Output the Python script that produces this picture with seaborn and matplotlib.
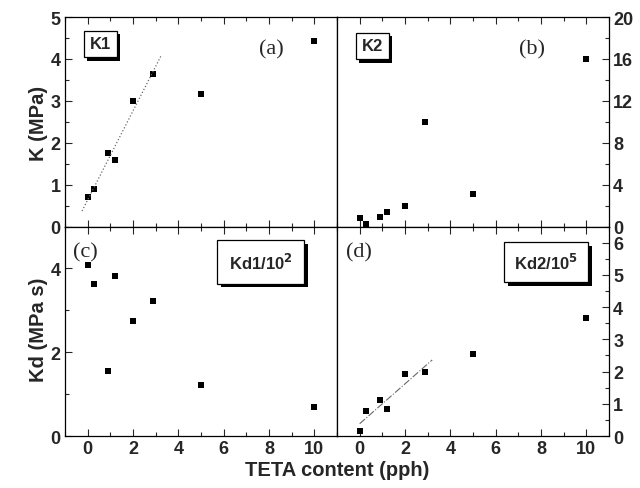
import numpy as np
import pandas as pd
import matplotlib
matplotlib.use('Agg')
import matplotlib.pyplot as plt
import matplotlib.patheffects as pe
from matplotlib.ticker import MultipleLocator
import seaborn as sns

# TETA content (pph)
teta = [0, 0.3, 0.9, 1.2, 2, 2.9, 5, 10]
# K1 (MPa), K2 (MPa)
k1 = [0.7, 0.9, 1.75, 1.58, 3.0, 3.65, 3.17, 4.42]
k2 = [0.86, 0.29, 0.92, 1.37, 1.97, 10.0, 3.1, 16.0]
# Kd1/10^2 and Kd2/10^5 (MPa s)
kd1 = [4.09, 3.62, 1.56, 3.82, 2.75, 3.22, 1.22, 0.69]
kd2 = [0.15, 0.77, 1.12, 0.83, 1.94, 2.0, 2.56, 3.66]

df = pd.DataFrame({'teta': teta, 'k1': k1, 'k2': k2, 'kd1': kd1, 'kd2': kd2})

sns.set_style('ticks')
plt.rcParams['font.family'] = ['Liberation Sans', 'DejaVu Sans']
plt.rcParams['font.weight'] = 'bold'

fig, axes = plt.subplots(2, 2, figsize=(6.4, 4.89), dpi=100)
fig.subplots_adjust(left=0.1016, right=0.9516, top=0.963, bottom=0.1063,
                    hspace=0, wspace=0)
(ax_a, ax_b), (ax_c, ax_d) = axes

panels = [
    (ax_a, 'k1', (0, 5), 1, 0.5, 'left', 'K1', 0.35, (0.13, 0.872), '(a)', (0.76, 0.85)),
    (ax_b, 'k2', (0, 20), 4, 2, 'right', 'K2', 0.35, (0.13, 0.862), '(b)', (0.716, 0.85)),
    (ax_c, 'kd1', (0, 5), 2, 1, 'left', 'Kd1/10$^2$', 0.7, (0.72, 0.83), '(c)', (0.075, 0.88)),
    (ax_d, 'kd2', (0, 6.5), 1, 0.5, 'right', 'Kd2/10$^5$', 0.6, (0.77, 0.83), '(d)', (0.08, 0.88)),
]

for ax, col, ylim, major, minor, side, box, pad, box_pos, tag, tag_pos in panels:
    sns.scatterplot(data=df, x='teta', y=col, ax=ax, marker='s', s=22,
                    color='black', edgecolor='black', linewidth=0)
    ax.set_xlim(-1, 11)
    ax.set_ylim(*ylim)
    ax.xaxis.set_major_locator(MultipleLocator(2))
    ax.xaxis.set_minor_locator(MultipleLocator(1))
    ax.yaxis.set_major_locator(MultipleLocator(major))
    ax.yaxis.set_minor_locator(MultipleLocator(minor))
    ax.set_xlabel('')
    ax.set_ylabel('')
    for s in ax.spines.values():
        s.set_linewidth(0.9)
        s.set_color('black')
    ax.tick_params(which='both', direction='in', top=True, bottom=True,
                   left=(side == 'left'), right=(side == 'right'),
                   labelleft=(side == 'left'), labelright=(side == 'right'),
                   width=0.8, labelsize=13, pad=3)
    ax.tick_params(which='major', length=5)
    ax.tick_params(which='minor', length=3)
    t = ax.text(box_pos[0], box_pos[1], box, transform=ax.transAxes,
                ha='center', va='center', fontsize=12, fontweight='bold',
                bbox=dict(boxstyle=f'square,pad={pad}', fc='white', ec='black', lw=0.9))
    t.get_bbox_patch().set_path_effects(
        [pe.withSimplePatchShadow(offset=(2.5, -2.5), shadow_rgbFace='black', alpha=1)])
    ax.text(tag_pos[0], tag_pos[1], tag, transform=ax.transAxes, ha='center',
            va='center', fontsize=16, family='Liberation Serif', fontweight='normal')

for ax in (ax_a, ax_b):
    ax.tick_params(labelbottom=False)

# linear fits over the low-content points
lo = df[df['teta'] < 4]
p1 = np.polyfit(lo['teta'], lo['k1'], 1)
xs1 = np.array([-0.25, 3.25])
ax_a.plot(xs1, np.polyval(p1, xs1), color='dimgray', lw=0.9, ls=':')
p2 = np.polyfit(lo['teta'], lo['kd2'], 1)
xs2 = np.array([0, 3.2])
ax_d.plot(xs2, np.polyval(p2, xs2), color='dimgray', lw=0.8, ls='-.')

fig.text(0.06, 0.748, 'K (MPa)', rotation=90, ha='center', va='center',
         fontsize=14.5, fontweight='bold')
fig.text(0.06, 0.325, 'Kd (MPa s)', rotation=90, ha='center', va='center',
         fontsize=14.5, fontweight='bold')
fig.text(0.527, 0.037, 'TETA content (pph)', ha='center', va='center',
         fontsize=14.5, fontweight='bold')

fig.savefig('out.png', dpi=100)
